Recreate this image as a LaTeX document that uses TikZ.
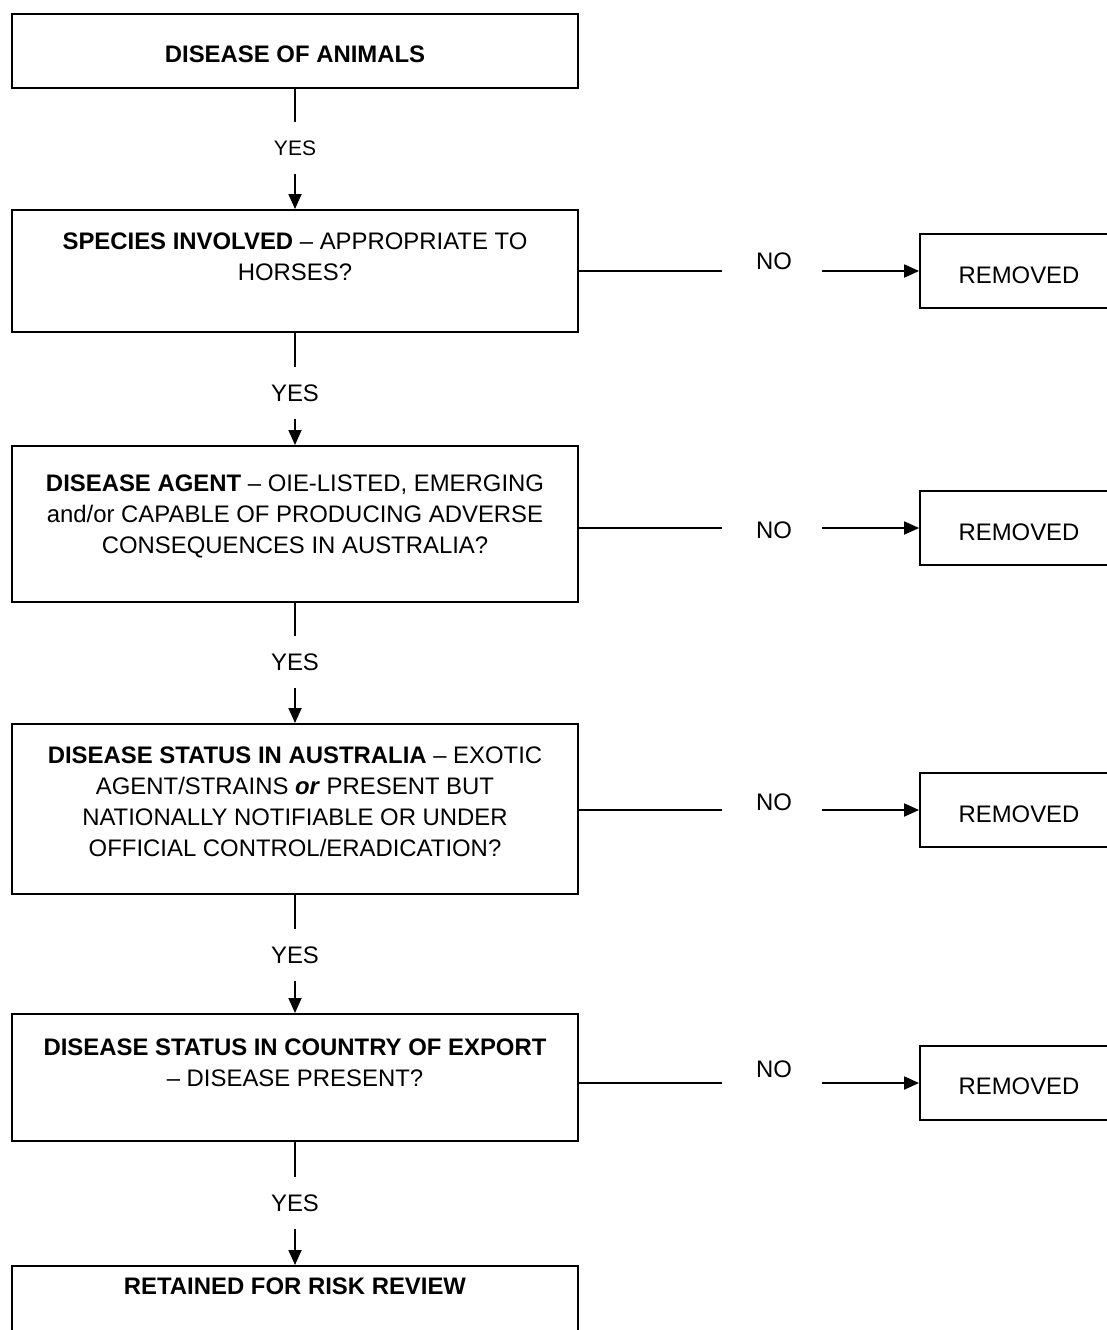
\documentclass[tikz,border=0pt]{standalone}
\usepackage{fontspec}
\setmainfont{Liberation Sans}
\usetikzlibrary{arrows.meta}
\begin{document}
\begin{tikzpicture}[x=1pt,y=-1pt,line width=1.8pt,
  every node/.style={font=\fontsize{23.9}{31}\selectfont, inner sep=0pt},
  mainbox/.style={draw, rectangle, minimum width=566pt, anchor=north},
  boxtext/.style={align=center, anchor=north},
  yeslabel/.style={minimum height=50pt},
  remb/.style={draw, rectangle, minimum width=198pt, minimum height=74pt},
  arr/.style={-{Triangle[length=15pt,width=13pt]}}]
\fill[white] (0,0) rectangle (1107,1330);
\useasboundingbox (0,0) rectangle (1107,1330);

% main boxes
\node[mainbox, minimum height=74pt]  (b1) at (295,13)   {};
\node[mainbox, minimum height=122pt] (b2) at (295,209)  {};
\node[mainbox, minimum height=156pt] (b3) at (295,445)  {};
\node[mainbox, minimum height=170pt] (b4) at (295,723)  {};
\node[mainbox, minimum height=127pt] (b5) at (295,1013) {};
\node[mainbox, minimum height=90pt]  (b6) at (295,1265) {};

% texts
\node (t1) at (295,54) {\bfseries DISEASE OF ANIMALS};
\node[boxtext] (t2) at (295,231.5) {\textbf{SPECIES INVOLVED} – APPROPRIATE TO\\HORSES?};
\node[boxtext] (t3) at (295,473.5) {\textbf{DISEASE AGENT} – OIE-LISTED, EMERGING\\and/or CAPABLE OF PRODUCING ADVERSE\\CONSEQUENCES IN AUSTRALIA?};
\node[boxtext] (t4) at (295,745.5) {\textbf{DISEASE STATUS IN AUSTRALIA} – EXOTIC\\AGENT/STRAINS \textbf{\textit{or}} PRESENT BUT\\NATIONALLY NOTIFIABLE OR UNDER\\OFFICIAL CONTROL/ERADICATION?};
\node[boxtext] (t5) at (295,1037.5) {\textbf{DISEASE STATUS IN COUNTRY OF EXPORT}\\– DISEASE PRESENT?};
\node[boxtext] (t6) at (295,1277) {\bfseries RETAINED FOR RISK REVIEW};

% YES labels
\node[yeslabel, font=\fontsize{21}{25}\selectfont] (y1) at (295,148) {YES};
\node[yeslabel] (y2) at (295,393)  {YES};
\node[yeslabel] (y3) at (295,662)  {YES};
\node[yeslabel] (y4) at (295,955)  {YES};
\node[yeslabel] (y5) at (295,1203) {YES};

\draw (b1.south) -- (y1.north); \draw[arr] (y1.south) -- (b2.north);
\draw (b2.south) -- (y2.north); \draw[arr] (y2.south) -- (b3.north);
\draw (b3.south) -- (y3.north); \draw[arr] (y3.south) -- (b4.north);
\draw (b4.south) -- (y4.north); \draw[arr] (y4.south) -- (b5.north);
\draw (b5.south) -- (y5.north); \draw[arr] (y5.south) -- (b6.north);

% REMOVED boxes
\node[remb] (r2) at (1019,271)  {};
\node[remb] (r3) at (1019,528)  {};
\node[remb] (r4) at (1019,810)  {};
\node[remb] (r5) at (1019,1083) {};
\node (rt2) at (1019,275)  {REMOVED};
\node (rt3) at (1019,532)  {REMOVED};
\node (rt4) at (1019,814)  {REMOVED};
\node (rt5) at (1019,1086) {REMOVED};

% NO labels
\node (n2) at (774,261)  {NO};
\node (n3) at (774,530)  {NO};
\node (n4) at (774,802)  {NO};
\node (n5) at (774,1069) {NO};

% horizontal connectors
\coordinate (a2) at (722,271);  \coordinate (c2) at (822,271);
\coordinate (a3) at (722,528);  \coordinate (c3) at (822,528);
\coordinate (a4) at (722,810);  \coordinate (c4) at (822,810);
\coordinate (a5) at (722,1083); \coordinate (c5) at (822,1083);
\draw (b2.east |- a2) -- (a2); \draw[arr] (c2) -- (r2.west);
\draw (b3.east |- a3) -- (a3); \draw[arr] (c3) -- (r3.west);
\draw (b4.east |- a4) -- (a4); \draw[arr] (c4) -- (r4.west);
\draw (b5.east |- a5) -- (a5); \draw[arr] (c5) -- (r5.west);
\end{tikzpicture}
\end{document}
